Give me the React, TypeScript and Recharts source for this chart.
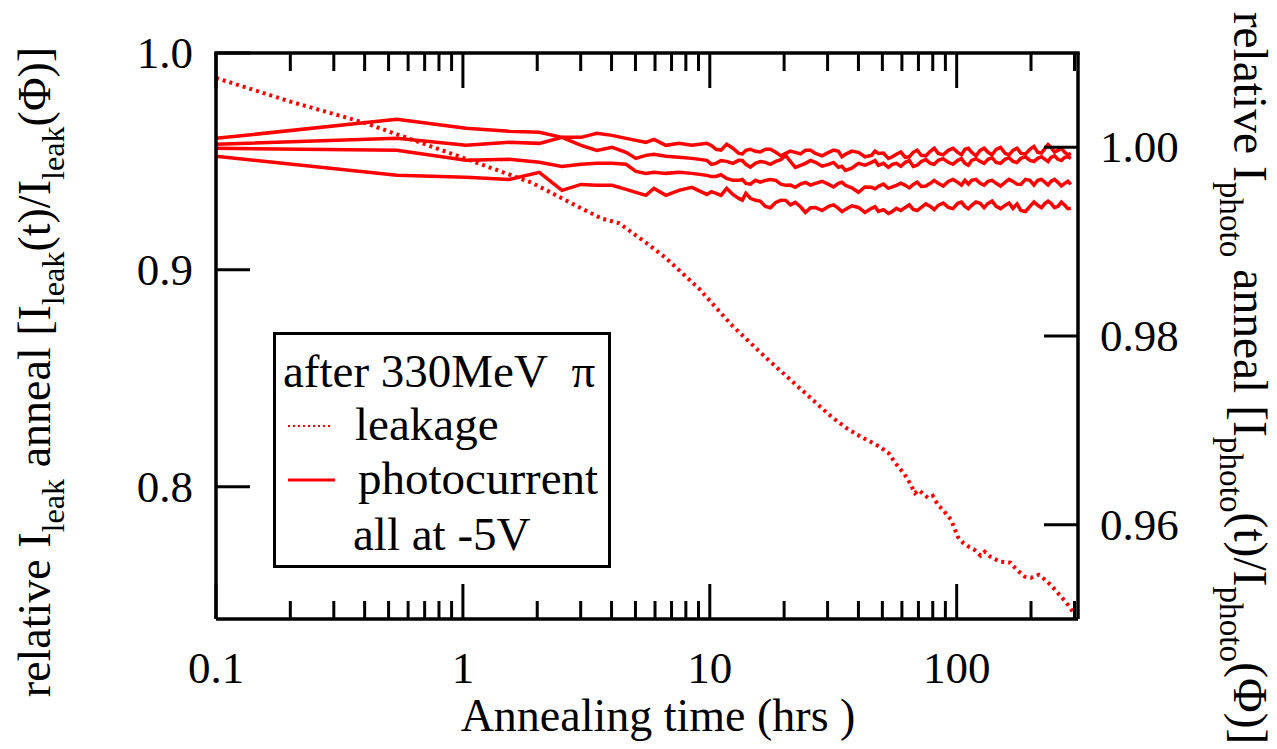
import React from 'react';
import { LineChart, Line, XAxis, YAxis, Legend } from 'recharts';

// ---- data ----

// annealing time (hrs) for the photocurrent scans
const TIME_PHOTO = [
  0.1, 0.54, 1.03, 1.54, 2.04, 2.52, 3.01, 3.49, 4.02, 4.58,
  5.02, 5.51, 5.94, 6.64, 7.5, 8.46, 9.73, 10.6, 11.7, 13.1,
  14.0, 15.3, 16.8, 18.5, 20.3, 22.2, 24.4, 26.8, 30.3, 33.2,
  35.4, 40.0, 45.2, 48.2, 52.9, 57.0, 61.9, 66.7, 71.9, 78.2,
  84.2, 92.5, 101, 108, 115, 124.5, 134, 144.5, 157, 169,
  182, 198, 213, 228, 241, 257, 274, 290,
];

// relative photocurrent (right axis), four diodes
const PHOTO_A = [
  1.00095, 1.00297, 1.00202, 1.0017, 1.00159, 1.00106, 1.00106, 1.00149, 1.00127, 1.00095,
  1.00074, 1.00053, 1.00085, 1.00021, 1.00042, 1.00021, 1.00042, 0.99979, 1.00032, 0.99936,
  0.99968, 0.99958, 0.99979, 0.99947, 0.99936, 0.99947, 0.99968, 0.99936, 0.99947, 0.99958,
  0.99926, 0.99947, 0.99915, 0.99936, 0.99883, 0.99926, 0.99894, 0.99947, 0.99915, 0.99958,
  0.99936, 0.99968, 0.99947, 0.99979, 0.99947, 0.99968, 0.99947, 0.99979, 0.99936, 0.99968,
  0.99936, 0.99979, 0.99947, 0.99989, 1.0, 0.99968, 0.99947, 0.99936,
];
const PHOTO_B = [
  1.00032, 1.00095, 1.00021, 1.00053, 1.00042, 1.00106, 1.00021, 0.99968, 1.0, 0.99947,
  0.99883, 0.99915, 0.99926, 0.99905, 0.99894, 0.99883, 0.99862, 0.9983, 0.99851, 0.99862,
  0.9982, 0.9983, 0.99841, 0.99851, 0.99915, 0.99788, 0.9983, 0.99841, 0.9982, 0.99788,
  0.99756, 0.9983, 0.99841, 0.99809, 0.99788, 0.9983, 0.99841, 0.99798, 0.99851, 0.9983,
  0.99862, 0.99841, 0.99862, 0.9983, 0.99862, 0.99851, 0.99873, 0.99841, 0.99873, 0.99851,
  0.99883, 0.99862, 0.99883, 0.99873, 0.99894, 0.99873, 0.99894, 0.99883,
];
const PHOTO_C = [
  0.99989, 0.99968, 0.99862, 0.99873, 0.99841, 0.99798, 0.9982, 0.9983, 0.9983, 0.9982,
  0.99745, 0.99724, 0.99735, 0.99724, 0.99735, 0.99724, 0.99703, 0.99692, 0.99671, 0.9965,
  0.99618, 0.9965, 0.9965, 0.9965, 0.99597, 0.99576, 0.99629, 0.99618, 0.99607, 0.99618,
  0.99597, 0.99523, 0.99576, 0.99586, 0.99565, 0.99597, 0.99597, 0.99607, 0.99586, 0.99618,
  0.99618, 0.99639, 0.99629, 0.9965, 0.9965, 0.99618, 0.99639, 0.99618, 0.99629, 0.99639,
  0.99607, 0.9965, 0.9965, 0.99629, 0.99639, 0.99629, 0.99618, 0.99607,
];
const PHOTO_D = [
  0.99905, 0.99703, 0.99682, 0.9966, 0.99735, 0.99544, 0.99607, 0.99597, 0.99597, 0.99554,
  0.99523, 0.99491, 0.99565, 0.99491, 0.99544, 0.99576, 0.99501, 0.99512, 0.99565, 0.99459,
  0.99512, 0.99438, 0.99374, 0.99416, 0.99438, 0.99416, 0.9931, 0.99363, 0.99374, 0.99353,
  0.99342, 0.99363, 0.99353, 0.99321, 0.993, 0.99353, 0.99363, 0.99342, 0.99363, 0.99374,
  0.99385, 0.99363, 0.99406, 0.99374, 0.99385, 0.99406, 0.99406, 0.99374, 0.99385, 0.99353,
  0.99332, 0.99374, 0.99385, 0.99406, 0.99406, 0.99374, 0.99385, 0.99353,
];

// extra readings in the noisy part (t > 10 h), between the scans above
const TIME_NOISE = [
  10.15, 11.1, 12.4, 13.55, 14.6, 16.0, 17.6, 19.4, 21.2, 23.3,
  25.6, 28.5, 31.7, 34.3, 37.6, 42.5, 46.7, 50.5, 54.9, 59.4,
  64.3, 69.2, 75.0, 81.1, 88.2, 96.6, 104.5, 111.5, 119.7, 129.1,
  139.1, 150.6, 163, 175.5, 190, 205.5, 220.5, 234.5, 249, 265.5, 282,
];
const NOISE_A = [
  1.0002, 0.9997, 0.9999, 0.9993, 0.9998, 0.9995, 0.9998, 0.9991, 0.9996, 0.9993,
  0.9997, 0.9991, 0.9997, 0.999, 0.9996, 0.999, 0.9996, 0.9994, 0.999, 0.9995,
  0.999, 0.9997, 0.9991, 0.9999, 0.9992, 0.9999, 0.9992, 0.9999, 0.9991, 0.9999,
  0.9992, 1.0, 0.9992, 0.9999, 0.9993, 1.0001, 0.9994, 1.0003, 0.9995, 0.9999, 0.9992,
];
const NOISE_B = [
  0.9982, 0.9986, 0.9983, 0.9986, 0.9979, 0.9985, 0.9982, 0.9987, 0.9985, 0.9981,
  0.9986, 0.998, 0.9984, 0.998, 0.9978, 0.9981, 0.9986, 0.9983, 0.9982, 0.998,
  0.9986, 0.9981, 0.9987, 0.9982, 0.9988, 0.9982, 0.9988, 0.9981, 0.9988, 0.9983,
  0.9989, 0.9983, 0.9989, 0.9984, 0.999, 0.9985, 0.999, 0.9985, 0.9991, 0.9986, 0.999,
];
const NOISE_C = [
  0.9969, 0.9971, 0.9965, 0.9966, 0.9961, 0.9963, 0.9966, 0.9961, 0.996, 0.9961,
  0.996, 0.9964, 0.9958, 0.9963, 0.9957, 0.9958, 0.9956, 0.9961, 0.9958, 0.9962,
  0.9957, 0.9963, 0.9959, 0.9965, 0.9959, 0.9966, 0.996, 0.9961, 0.9966, 0.996,
  0.9965, 0.9959, 0.9966, 0.9961, 0.9966, 0.996, 0.9966, 0.996, 0.9966, 0.9959, 0.9964,
];
const NOISE_D = [
  0.9953, 0.9949, 0.995, 0.9944, 0.9946, 0.9943, 0.9936, 0.9944, 0.9939, 0.9937,
  0.9936, 0.9933, 0.9939, 0.9932, 0.9938, 0.9931, 0.9937, 0.9934, 0.9932, 0.9933,
  0.9939, 0.9933, 0.994, 0.9934, 0.9941, 0.9935, 0.9942, 0.9935, 0.9942, 0.9936,
  0.9943, 0.9935, 0.9941, 0.994, 0.9932, 0.9942, 0.9936, 0.9943, 0.9936, 0.9942, 0.9935,
];

// leakage current (left axis)
const TIME_LEAK = [
  0.1, 0.2, 0.4, 1.03, 1.9, 3.0, 3.66, 4.3, 4.84, 5.5,
  6.6, 9.03, 12.3, 16.8, 22.9, 31.2, 36, 41.1, 45, 49,
  53, 56, 59.5, 63, 67.8, 70, 76.5, 80, 84, 88,
  95, 101, 106, 112, 118, 125, 130, 137, 150, 165,
  175, 189, 200, 215, 228, 240, 256, 265, 282, 295,
];
const LEAK = [
  0.9885, 0.9776, 0.9678, 0.9512, 0.9402, 0.9285, 0.9236, 0.9215, 0.9172, 0.9126,
  0.9057, 0.8914, 0.8744, 0.8597, 0.8459, 0.8321, 0.8268, 0.8229, 0.8206, 0.8183,
  0.8155, 0.8114, 0.8077, 0.804, 0.7971, 0.7985, 0.7949, 0.7958, 0.7916, 0.7893,
  0.7847, 0.7769, 0.7742, 0.7723, 0.7709, 0.7682, 0.77, 0.7677, 0.7654, 0.765,
  0.7617, 0.7585, 0.758, 0.7594, 0.7571, 0.7548, 0.7512, 0.7493, 0.7456, 0.7424,
];

const X_TICKS = [
  0.1, 0.2, 0.3, 0.4, 0.5, 0.6, 0.7, 0.8, 0.9,
  1, 2, 3, 4, 5, 6, 7, 8, 9,
  10, 20, 30, 40, 50, 60, 70, 80, 90,
  100, 200, 300,
];
const X_MAJOR = [0.1, 1, 10, 100];
const LEFT_TICKS = [0.8, 0.9, 1.0];
const RIGHT_TICKS = [0.96, 0.98, 1.0];

// ---- layout ----

const W = 1277;
const H = 749;
const MARGIN_TOP = 53;
const X_AXIS_H = 130;
const LEFT_W = 216;
const RIGHT_W = 199;
const PLOT_W = W - LEFT_W - RIGHT_W;
const X_DOMAIN: [number, number] = [0.1, 310];

const FONT = '"Liberation Serif", "Times New Roman", Times, serif';
const RED = '#ff0000';

const toRows = (xs: number[], ys: number[]) => xs.map((t, i) => ({ t, v: ys[i] }));
const merge = (a: { t: number; v: number }[], b: { t: number; v: number }[]) =>
  [...a, ...b].sort((p, q) => p.t - q.t);

const leakRows = toRows(TIME_LEAK, LEAK);
const photoSeries = [
  merge(toRows(TIME_PHOTO, PHOTO_A), toRows(TIME_NOISE, NOISE_A)),
  merge(toRows(TIME_PHOTO, PHOTO_B), toRows(TIME_NOISE, NOISE_B)),
  merge(toRows(TIME_PHOTO, PHOTO_C), toRows(TIME_NOISE, NOISE_C)),
  merge(toRows(TIME_PHOTO, PHOTO_D), toRows(TIME_NOISE, NOISE_D)),
];

// fraction of the plot width for a time on the log axis (top-frame ticks only)
const logFrac = (t: number) =>
  (Math.log10(t) - Math.log10(X_DOMAIN[0])) / (Math.log10(X_DOMAIN[1]) - Math.log10(X_DOMAIN[0]));

// tick marks drawn inside the frame
const BottomTick = (props: any) => {
  const { x, y, payload } = props;
  const major = X_MAJOR.includes(payload.value);
  return (
    <g>
      <line x1={x} x2={x} y1={y} y2={y - (major ? 35 : 18)} stroke="#000" strokeWidth={3} />
      {major && (
        <text x={x} y={y + 64} textAnchor="middle" fontSize={45} fontFamily={FONT} fill="#000">
          {String(payload.value)}
        </text>
      )}
    </g>
  );
};

// left ticks; the 1.0 tick also closes the frame along the top, with its ticks
const LeftTick = (props: any) => {
  const { x, y, payload } = props;
  const isTop = payload.value === 1.0;
  return (
    <g>
      <line x1={x} x2={x + 34} y1={y} y2={y} stroke="#000" strokeWidth={3} />
      {isTop && (
        <g>
          <line x1={x - 1.75} x2={x + PLOT_W + 1.75} y1={y} y2={y} stroke="#000" strokeWidth={3.5} />
          {X_TICKS.map(t => {
            const tx = x + PLOT_W * logFrac(t);
            return (
              <line key={t} x1={tx} x2={tx} y1={y} y2={y + (X_MAJOR.includes(t) ? 35 : 18)}
                stroke="#000" strokeWidth={3} />
            );
          })}
        </g>
      )}
      <text x={x - 23} y={y + 15} textAnchor="end" fontSize={45} fontFamily={FONT} fill="#000">
        {payload.value.toFixed(1)}
      </text>
    </g>
  );
};

const RightTick = (props: any) => {
  const { x, y, payload } = props;
  return (
    <g>
      <line x1={x} x2={x - 34} y1={y} y2={y} stroke="#000" strokeWidth={3} />
      <text x={x + 22} y={y + 15} textAnchor="start" fontSize={45} fontFamily={FONT} fill="#000">
        {payload.value.toFixed(2)}
      </text>
    </g>
  );
};

// text pieces with subscripts: [text, isSub]
type Piece = [string, boolean];
const titlePieces = (sub: string): Piece[] => [
  ['relative I', false], [sub, true], [' anneal [I', false], [sub, true],
  ['(t)/I', false], [sub, true], ['(Φ)]', false],
];

const RotTitle = ({ cx, cy, angle, size, pieces }: any) => (
  <text x={cx} y={cy} transform={`rotate(${angle} ${cx} ${cy})`} textAnchor="middle"
    fontSize={size} fontFamily={FONT} fill="#000">
    {pieces.map(([str, isSub]: Piece, i: number) => {
      const prevSub = i > 0 && pieces[i - 1][1];
      const dy = isSub ? size * 0.3 : prevSub ? -size * 0.3 : 0;
      return (
        <tspan key={i} dy={dy} fontSize={isSub ? size * 0.7 : size}>{str}</tspan>
      );
    })}
  </text>
);

const XTitle = (props: any) => {
  const vb = props.viewBox;
  return (
    <text x={vb.x + vb.width / 2 + 11} y={vb.y + 112} textAnchor="middle"
      fontSize={46} fontFamily={FONT} fill="#000">
      Annealing time (hrs )
    </text>
  );
};

const LeftTitle = (props: any) => {
  const vb = props.viewBox;
  return <RotTitle cx={vb.x + 50} cy={vb.y + 319} angle={-90} size={46} pieces={titlePieces('leak')} />;
};

const RightTitle = (props: any) => {
  const vb = props.viewBox;
  return <RotTitle cx={vb.x + 156} cy={vb.y + 325} angle={90} size={47.5} pieces={titlePieces('photo')} />;
};

const LegendBox = (props: any) => {
  const items = (props.payload || []).filter((p: any) => p.type !== 'none');
  return (
    <svg width={338} height={236} style={{ display: 'block', fontFamily: FONT }}>
      <rect x={1.5} y={1.5} width={335} height={233} fill="#fff" stroke="#000" strokeWidth={3} />
      <text x={10} y={55} fontSize={47} fill="#000">after 330MeV{'\u00a0\u00a0'}π</text>
      {items.map((it: any, i: number) => {
        const yy = 94 + i * 54;
        const dashed = it.payload && it.payload.strokeDasharray;
        return (
          <g key={it.value}>
            <line x1={15} x2={dashed ? 59 : 62} y1={yy} y2={yy} stroke={RED}
              strokeWidth={dashed ? 2 : 3} strokeDasharray={dashed ? '2 3' : undefined} />
            <text x={i === 0 ? 82 : 85} y={yy + 14} fontSize={47} fill="#000">{it.value}</text>
          </g>
        );
      })}
      <text x={80} y={218} fontSize={47} fill="#000">all at -5V</text>
    </svg>
  );
};

export default function App() {
  return (
    <div style={{ margin: -8, width: W, height: H, overflow: 'hidden', position: 'relative', background: '#fff' }}>
      <LineChart width={W} height={H} margin={{ top: MARGIN_TOP, right: 0, bottom: 0, left: 0 }}>
        <XAxis xAxisId="bottom" dataKey="t" type="number" scale="log" domain={X_DOMAIN}
          allowDataOverflow ticks={X_TICKS} interval={0} height={X_AXIS_H}
          tickSize={0} tickMargin={0} tickLine={false}
          axisLine={{ stroke: '#000', strokeWidth: 3.5 }} tick={<BottomTick />}
          label={{ content: (p: any) => <XTitle {...p} /> }} />
        <YAxis yAxisId="left" type="number" domain={[0.739, 1.0]} allowDataOverflow
          ticks={LEFT_TICKS} interval={0} width={LEFT_W}
          tickSize={0} tickMargin={0} tickLine={false}
          axisLine={{ stroke: '#000', strokeWidth: 3.5 }} tick={<LeftTick />}
          label={{ content: (p: any) => <LeftTitle {...p} /> }} />
        <YAxis yAxisId="right" orientation="right" type="number" domain={[0.95, 1.01]} allowDataOverflow
          ticks={RIGHT_TICKS} interval={0} width={RIGHT_W}
          tickSize={0} tickMargin={0} tickLine={false}
          axisLine={{ stroke: '#000', strokeWidth: 3.5 }} tick={<RightTick />}
          label={{ content: (p: any) => <RightTitle {...p} /> }} />

        {photoSeries.map((rows, i) => (
          <Line key={i} data={rows} xAxisId="bottom" yAxisId="right" dataKey="v"
            name="photocurrent" legendType={i === 0 ? 'line' : 'none'}
            type="linear" stroke={RED} strokeWidth={3.5} dot={false} isAnimationActive={false} />
        ))}
        <Line data={leakRows} xAxisId="bottom" yAxisId="left" dataKey="v" name="leakage"
          type="linear" stroke={RED} strokeWidth={4} strokeDasharray="3 4"
          dot={false} isAnimationActive={false} />

        <Legend layout="horizontal" verticalAlign="middle" align="center"
          itemSorter={(it: any) => (it.value === 'leakage' ? 0 : 1)}
          wrapperStyle={{ left: 273, top: 332, width: 338, height: 236 }}
          content={(p: any) => <LegendBox {...p} />} />
      </LineChart>
    </div>
  );
}
